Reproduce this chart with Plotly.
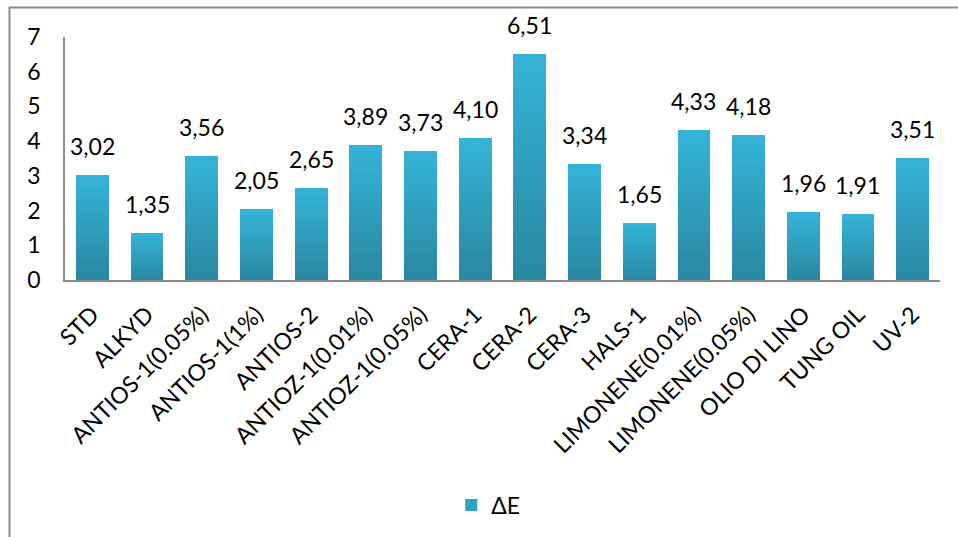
import plotly.graph_objects as go

# ΔE colour difference per sample
categories = ["STD", "ALKYD", "ANTIOS-1(0.05%)", "ANTIOS-1(1%)", "ANTIOS-2",
              "ANTIOZ-1(0.01%)", "ANTIOZ-1(0.05%)", "CERA-1", "CERA-2", "CERA-3",
              "HALS-1", "LIMONENE(0.01%)", "LIMONENE(0.05%)", "OLIO DI LINO",
              "TUNG OIL", "UV-2"]
delta_e = [3.02, 1.35, 3.56, 2.05, 2.65, 3.89, 3.73, 4.10, 6.51, 3.34,
           1.65, 4.33, 4.18, 1.96, 1.91, 3.51]
series_name = "ΔE"
y_ticks = [0, 1, 2, 3, 4, 5, 6, 7]

W, H = 958, 537
ML, MR, MT, MB = 65, 18, 37, 257
FONT = "Lato"
FS = 23

top_rgb = (53, 180, 216)
bot_rgb = (41, 135, 160)
N_SLICES = 40


def mix(t):
    r, g, b = (round(bot_rgb[i] + (top_rgb[i] - bot_rgb[i]) * t) for i in range(3))
    return f"rgb({r},{g},{b})"


fig = go.Figure()

# each bar is stacked from thin slices so it shades from dark (bottom) to light (top)
for k in range(N_SLICES):
    fig.add_trace(go.Bar(
        x=categories,
        y=[v / N_SLICES for v in delta_e],
        marker=dict(color=mix((k + 0.5) / N_SLICES), line=dict(width=0)),
        showlegend=False,
        hoverinfo="skip",
    ))

# legend entry
fig.add_trace(go.Bar(
    x=[categories[0]], y=[None], name=series_name,
    marker=dict(color=mix(0.6), line=dict(width=0)),
    showlegend=True,
))

for c, v in zip(categories, delta_e):
    fig.add_annotation(
        x=c, y=v, text=f"{v:.2f}".replace(".", ","),
        showarrow=False, yanchor="bottom", yshift=13,
        font=dict(family=FONT, size=FS, color="#000000"),
    )

# chart frame (top and left edges)
pw = W - ML - MR
ph = H - MT - MB
def px(x):
    return (x - ML) / pw
def py(y):
    return (H - MB - y) / ph

frame = dict(color="#8c8c8c", width=2)
fig.add_shape(type="line", xref="paper", yref="paper",
              x0=px(9), x1=px(W + 5), y0=py(7.5), y1=py(7.5), line=frame)
fig.add_shape(type="line", xref="paper", yref="paper",
              x0=px(9.5), x1=px(9.5), y0=py(7), y1=py(H + 5), line=frame)

fig.update_layout(
    width=W, height=H,
    margin=dict(l=ML, r=MR, t=MT, b=MB),
    barmode="stack",
    bargap=0.4,
    plot_bgcolor="white",
    paper_bgcolor="white",
    font=dict(family=FONT, size=FS, color="#000000"),
    showlegend=True,
    legend=dict(
        orientation="h",
        xref="container", yref="container",
        x=0.471, xanchor="left",
        y=1 - 505 / H, yanchor="middle",
        font=dict(family=FONT, size=FS),
        itemwidth=30,
    ),
)

fig.update_xaxes(
    tickangle=-45,
    showline=True, linecolor="#8c8c8c", linewidth=2,
    showgrid=False, ticks="",
    ticklabelstandoff=10,
    tickfont=dict(family=FONT, size=FS),
)
fig.update_yaxes(
    range=[0, 7],
    tickvals=y_ticks,
    showline=True, linecolor="#8c8c8c", linewidth=1.5,
    showgrid=False, zeroline=False, ticks="",
    ticklabelstandoff=18,
    tickfont=dict(family=FONT, size=FS),
)

fig.write_html("out.html")
